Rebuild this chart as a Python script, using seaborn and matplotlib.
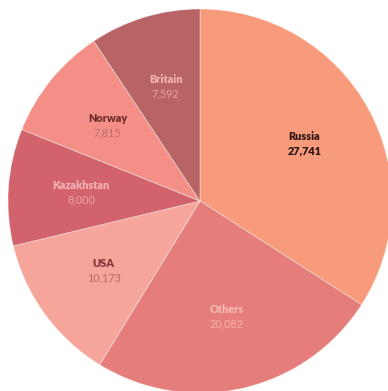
import numpy as np
import matplotlib
matplotlib.use("Agg")
import matplotlib.pyplot as plt
import seaborn as sns

# Production by country
countries = ["Russia", "Others", "USA", "Kazakhstan", "Norway", "Britain"]
values = [27741, 20082, 10173, 8000, 7815, 7592]
value_labels = ["27,741", "20,082", "10,173", "8,000", "7,815", "7,592"]

slice_colors = ["#F89B7B", "#E57E7A", "#F6A59B", "#D2626B", "#F38F86", "#B86465"]
name_colors = ["#2A1414", "#F6BAB2", "#7A3636", "#F4B3B3", "#6E2C2C", "#F2B6B2"]
value_colors = ["#2A1414", "#F4B2AA", "#B06C68", "#EEA4A4", "#BE6C68", "#E9A6A3"]
value_bold = [True, False, False, False, False, False]

sns.set_theme(style="white")
plt.rcParams["font.family"] = ["Lato", "DejaVu Sans"]

fig = plt.figure(figsize=(3.88, 3.91), dpi=100)
ax = fig.add_axes([0, 0, 1, 1])

wedges, _ = ax.pie(
    values,
    colors=slice_colors,
    startangle=90,
    counterclock=False,
    radius=1.0,
    wedgeprops=dict(edgecolor=(1, 1, 1, 0.45), linewidth=0.6),
)

label_r = 0.62
for w, name, vlab, nc, vc, vb in zip(wedges, countries, value_labels,
                                      name_colors, value_colors, value_bold):
    mid = np.deg2rad((w.theta1 + w.theta2) / 2)
    x, y = label_r * np.cos(mid), label_r * np.sin(mid)
    ax.annotate(name, (x, y), xytext=(0, 5.2), textcoords="offset points",
                ha="center", va="center", fontsize=7.8, fontweight="heavy",
                color=nc)
    ax.annotate(vlab, (x, y), xytext=(0, -5.2), textcoords="offset points",
                ha="center", va="center", fontsize=7.8,
                fontweight="heavy" if vb else "normal", color=vc)

ax.set_aspect("auto")
ax.set_xlim(-200 / 192, 188 / 192)
ax.set_ylim(-190 / 192, 201 / 192)
ax.axis("off")

fig.savefig("out.png", dpi=100, facecolor="white")
